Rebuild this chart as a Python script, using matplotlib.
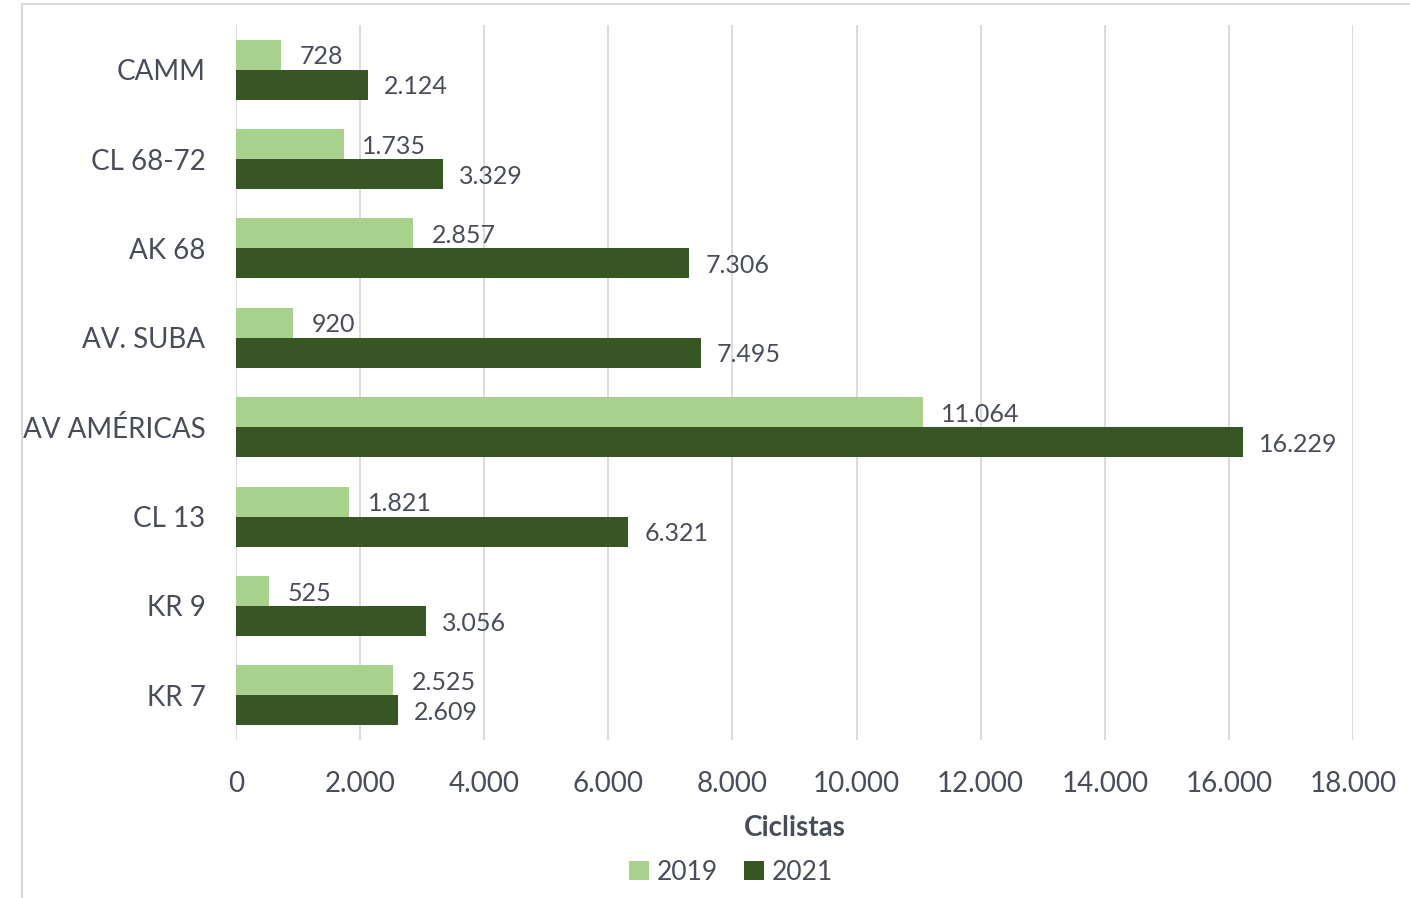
import numpy as np
import matplotlib
matplotlib.use("Agg")
import matplotlib.pyplot as plt
from matplotlib.patches import Patch
from matplotlib.lines import Line2D

plt.rcParams['font.family'] = ['Lato', 'DejaVu Sans']

categories = ['CAMM', 'CL 68-72', 'AK 68', 'AV. SUBA', 'AV AMÉRICAS', 'CL 13', 'KR 9', 'KR 7']
values_2019 = [728, 1735, 2857, 920, 11064, 1821, 525, 2525]
values_2021 = [2124, 3329, 7306, 7495, 16229, 6321, 3056, 2609]
series_names = ['2019', '2021']
x_ticks = [0, 2000, 4000, 6000, 8000, 10000, 12000, 14000, 16000, 18000]

LIGHT = '#a9d18e'
DARK = '#375623'
TEXT = '#494d58'
GRID = '#d9d9d9'


def fmt(v):
    return f'{v:,}'.replace(',', '.')


fig = plt.figure(figsize=(14.10, 8.98), dpi=100)
ax = fig.add_axes([236 / 1410, 158 / 898, 1117 / 1410, 715 / 898])

y = np.arange(len(categories))
h = 0.336
ax.barh(y - h / 2, values_2019, height=h, color=LIGHT, zorder=3)
ax.barh(y + h / 2, values_2021, height=h, color=DARK, zorder=3)

# data labels
for i, (a, b) in enumerate(zip(values_2019, values_2021)):
    ax.annotate(fmt(a), (a, i - h / 2), xytext=(13.5, -1.5), textcoords='offset points',
                va='center', ha='left', fontsize=18, color=TEXT)
    ax.annotate(fmt(b), (b, i + h / 2), xytext=(11.5, -1.5), textcoords='offset points',
                va='center', ha='left', fontsize=18, color=TEXT)

ax.set_ylim(len(categories) - 0.5, -0.5)
ax.set_xlim(0, 18000)
ax.set_yticks(y)
ax.set_yticklabels(categories)
ax.set_xticks(x_ticks)
ax.set_xticklabels([fmt(t) for t in x_ticks])
ax.tick_params(axis='both', length=0, labelsize=20, colors=TEXT)
ax.tick_params(axis='y', pad=22)
ax.tick_params(axis='x', pad=22)

ax.grid(axis='x', color=GRID, linewidth=1.3, zorder=0)
for s in ax.spines.values():
    s.set_visible(False)

ax.set_xlabel('Ciclistas', fontsize=20, fontweight='bold', color=TEXT, labelpad=13)

handles = [Patch(facecolor=LIGHT), Patch(facecolor=DARK)]
fig.legend(handles, series_names, loc='center', bbox_to_anchor=(731 / 1410, 1 - 872 / 898),
           ncol=2, frameon=False, fontsize=19, labelcolor=TEXT, handlelength=0.75,
           handleheight=0.75, handletextpad=0.3, columnspacing=1.0)

# chart frame
fig.add_artist(Line2D([22 / 1410, 1], [1 - 3.5 / 898] * 2, color=GRID, lw=1.5))
fig.add_artist(Line2D([22 / 1410] * 2, [0, 1 - 3.5 / 898], color=GRID, lw=1.5))

fig.savefig('out.png', dpi=100, facecolor='white')
